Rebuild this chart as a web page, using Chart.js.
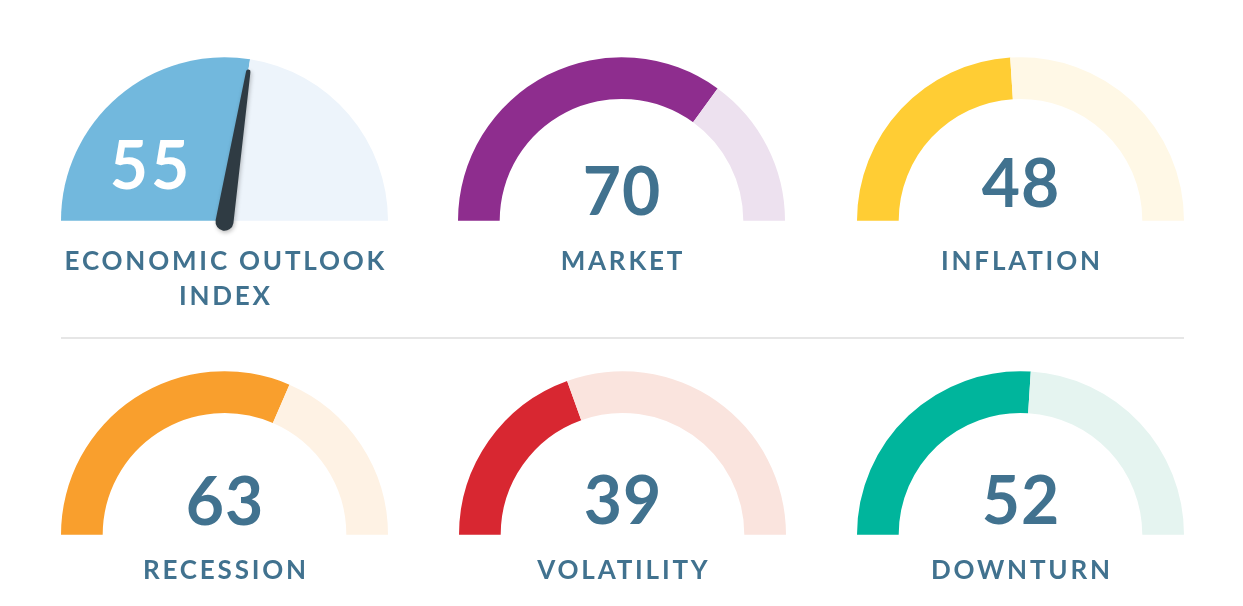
<!DOCTYPE html>
<html>
<head>
<meta charset="utf-8">
<script src="https://cdn.jsdelivr.net/npm/chart.js@4/dist/chart.umd.min.js"></script>
<style>
  html,body{margin:0;padding:0;background:#fff;overflow:hidden;}
  #wrap{position:relative;width:1243px;height:606px;}
  canvas{position:absolute;}
  .divider{position:absolute;left:61px;top:337px;width:1123px;height:2px;background:#e6e6e6;}
</style>
</head>
<body>
<div id="wrap">
  <div class="divider"></div>
</div>
<script>
// ======================= DATA =======================
const gaugeNames=[['ECONOMIC OUTLOOK','INDEX'],['MARKET'],['INFLATION'],['RECESSION'],['VOLATILITY'],['DOWNTURN']];
const gaugeValues=[55,70,48,63,39,52];
const gaugeMax=100;
const fillColors=['#72b8dd','#8e2d8e','#ffcd34','#f99f2d','#d82731','#00b59c'];
const trackColors=['#edf4fb','#ede1ef','#fff8e6','#fef2e4','#fae4de','#e5f4f0'];

// ======================= LAYOUT =======================
const R=163.5, PAD=92;
const centerX=[224,621.5,1020.5,224,622,1020.5];
const baseY=[220.7,220.7,220.7,534.3,534.3,534.3];
const numOffset=[[-75,-32],[0,-6],[0,-14],[0,-10],[0,-11],[0,-11]]; // number baseline relative to arc center
const labelOffset=[49,49,49,44,44,44];
const textColor='#41728f';

// ======================= PLUGINS =======================
const needlePlugin={
  id:'needle',
  afterDatasetsDraw(chart,args,opts){
    if(!opts.show) return;
    const arc=chart.getDatasetMeta(0).data[0];
    const ctx=chart.ctx, L=152, b=9, t=2.2;
    ctx.save();
    ctx.translate(arc.x,arc.y+1);
    ctx.rotate(arc.endAngle);
    ctx.shadowColor='rgba(0,0,0,0.25)';
    ctx.shadowBlur=4;
    ctx.shadowOffsetX=1;ctx.shadowOffsetY=2;
    ctx.fillStyle='#2f3b43';
    ctx.beginPath();
    ctx.moveTo(0,-b);
    ctx.lineTo(L,-t);
    ctx.arc(L,0,t,-Math.PI/2,Math.PI/2);
    ctx.lineTo(0,b);
    ctx.arc(0,0,b,Math.PI/2,Math.PI*1.5);
    ctx.closePath();
    ctx.fill();
    ctx.restore();
  }
};

const textPlugin={
  id:'gaugeText',
  afterDraw(chart,args,opts){
    const arc=chart.getDatasetMeta(0).data[0];
    const ctx=chart.ctx;
    const value=chart.data.datasets[0].data[0];
    ctx.save();
    ctx.textAlign='center';
    ctx.textBaseline='alphabetic';
    // value
    ctx.fillStyle=opts.numColor;
    ctx.font=`700 ${opts.numSize}px Lato`;
    ctx.letterSpacing=opts.numSpacing+'px';
    ctx.fillText(String(value),arc.x+opts.numDx+opts.numSpacing/2,arc.y+opts.numDy);
    // label
    ctx.fillStyle=textColor;
    ctx.font='700 26px Lato';
    ctx.letterSpacing='2.8px';
    opts.lines.forEach((line,i)=>{
      ctx.fillText(line,arc.x+1.4,arc.y+opts.labelDy+i*35);
    });
    ctx.restore();
  }
};

// ======================= BUILD GAUGES =======================
const wrap=document.getElementById('wrap');
gaugeValues.forEach((v,i)=>{
  const cv=document.createElement('canvas');
  cv.width=2*R;
  cv.height=Math.ceil(R)+PAD;
  cv.style.left=(centerX[i]-R)+'px';
  cv.style.top=(baseY[i]-R)+'px';
  wrap.appendChild(cv);
  const first=i===0;
  new Chart(cv.getContext('2d'),{
    type:'doughnut',
    data:{
      labels:['value','rest'],
      datasets:[{data:[v,gaugeMax-v],backgroundColor:[fillColors[i],trackColors[i]],borderWidth:0,hoverOffset:0}]
    },
    options:{
      responsive:false,
      animation:false,
      rotation:-90,
      circumference:180,
      cutout:first?0:'74.5%',
      layout:{padding:{top:0,left:0,right:0,bottom:PAD}},
      events:[],
      plugins:{
        legend:{display:false},
        tooltip:{enabled:false},
        needle:{show:first},
        gaugeText:{
          lines:gaugeNames[i],
          numColor:first?'#ffffff':textColor,
          numSize:first?66:66,
          numSpacing:first?3:1,
          numDx:numOffset[i][0],
          numDy:numOffset[i][1],
          labelDy:labelOffset[i]
        }
      }
    },
    plugins:[needlePlugin,textPlugin]
  });
});
</script>
</body>
</html>
